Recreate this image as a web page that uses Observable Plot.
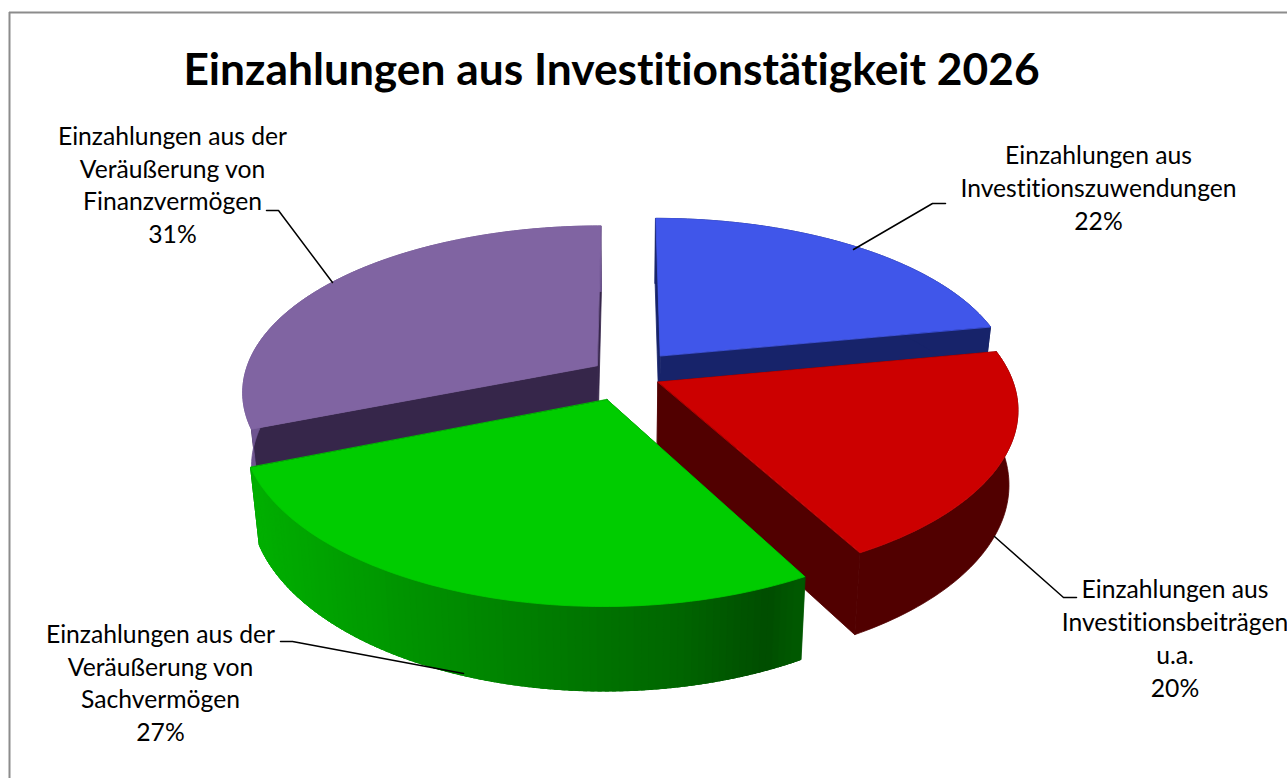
<!DOCTYPE html>
<html lang="de">
<head>
<meta charset="utf-8">
<script src="https://cdn.jsdelivr.net/npm/d3@7"></script>
<script src="https://cdn.jsdelivr.net/npm/@observablehq/plot@0.6"></script>
<style>
html,body{margin:0;padding:0;background:#fff;overflow:hidden}
#chart svg{display:block;font-variant-ligatures:none}
#chart svg text{font-variant-ligatures:none;font-feature-settings:"liga" 0,"clig" 0}
</style>
</head>
<body>
<div id="chart"></div>
<script>
// --- data -----------------------------------------------------------------
const title = "Einzahlungen aus Investitionstätigkeit 2026";
const categories = [
  "Einzahlungen aus\nInvestitionszuwendungen",
  "Einzahlungen aus\nInvestitionsbeiträgen\nu.a.",
  "Einzahlungen aus der\nVeräußerung von\nSachvermögen",
  "Einzahlungen aus der\nVeräußerung von\nFinanzvermögen"
];
const shares = [22, 20, 27, 31];
const explosion = [0.155, 0.10, 0.155, 0.10];
const topColors = ["#4056EA", "#CC0000", "#00CC00", "#8064A2"];
const faceColors = ["#17236A", "#510000", "#004D00", "#36264A"];
const rimColors = ["#17236A", "#510000", null, "#6E5590"];
const labelX = [1098, 1174.5, 160, 172];
const labelY = [186, 636.5, 681, 183];
const leaders = [
  [[945, 203], [932, 203], [853, 249]],
  [[1076, 597], [1063, 597], [994, 536]],
  [[280, 641], [292, 641], [463, 673]],
  [[266, 210], [278, 210], [332, 282]]
];

// --- 3-D pie projection ---------------------------------------------------
const cx = 625.5, cy = 374.5, rx = 352.7, ry = 165, kx = 0.15, ky = 0.16;
const depth = 73, sx = 0.977, sy = 1.05;
const rad = d => d * Math.PI / 180;
function project(X, Z, bottom) {
  const x = rx * X / (1 + kx * Z), y = -ry * Z / (1 + ky * Z);
  return bottom ? [cx + x * sx, cy + depth + y * sy] : [cx + x, cy + y];
}
const greenWall = d3.scaleLinear()
  .domain([258, 400, 550, 680, 770, 805])
  .range(["#00B000", "#009600", "#007C00", "#006600", "#004D00", "#005C00"]);

// --- polygons -------------------------------------------------------------
const polys = [];
let nextId = 0;
const addPoly = (pts, color) => {
  const id = nextId++;
  pts.forEach(p => polys.push({id, px: p[0], py: p[1], color}));
};
const starts = d3.cumsum([0, ...shares]);
const drawOrder = [3, 0, 1, 2];
for (const i of drawOrder) {
  const a0 = starts[i] * 3.6, a1 = starts[i + 1] * 3.6;
  const mid = rad((a0 + a1) / 2);
  const ox = explosion[i] * Math.sin(mid), oz = explosion[i] * Math.cos(mid);
  const rim = (deg, bottom) =>
    project(ox + Math.sin(rad(deg)), oz + Math.cos(rad(deg)), bottom);
  const apex = bottom => project(ox, oz, bottom);
  const arc = (from, to, bottom, step = 1) => {
    const out = d3.range(from, to, step).map(f => rim(f, bottom));
    out.push(rim(to, bottom));
    return out;
  };

  // radial cut faces
  addPoly([apex(false), rim(a0, false), rim(a0, true), apex(true)], faceColors[i]);
  addPoly([apex(false), rim(a1, false), rim(a1, true), apex(true)], faceColors[i]);
  // outer wall: one flat polygon, or overlapping strips for the shaded slice
  if (rimColors[i]) {
    addPoly([...arc(a0, a1, false), ...arc(a0, a1, true).reverse()], rimColors[i]);
  } else {
    for (const f of d3.range(a1 - 1, a0 - 1, -1)) {
      const from = Math.max(f, a0), to = Math.min(f + 2.5, a1);
      const p = [rim(from, false), rim(to, false), rim(to, true), rim(from, true)];
      addPoly(p, d3.color(greenWall((p[2][0] + p[3][0]) / 2)).formatHex());
    }
  }
  // top surface
  addPoly([apex(false), ...arc(a0, a1, false)], topColors[i]);
}

const labels = categories.map((c, i) => ({
  text: `${c}\n${shares[i]}%`, x: labelX[i], y: labelY[i]
}));
const leaderRows = leaders.flatMap((l, id) => l.map(p => ({id, px: p[0], py: p[1]})));

// --- chart ----------------------------------------------------------------
const chart = Plot.plot({
  width: 1287,
  height: 778,
  margin: 0,
  style: {background: "#fff", fontFamily: "Lato, sans-serif"},
  x: {domain: [0, 1287], range: [0, 1287], axis: null},
  y: {domain: [0, 778], range: [0, 778], axis: null},
  color: {type: "identity"},
  marks: [
    Plot.ruleY([12], {stroke: "#8C8C8C", strokeWidth: 2, x1: 9, x2: 1287}),
    Plot.ruleX([9], {stroke: "#8C8C8C", strokeWidth: 2, y1: 12, y2: 778}),
    Plot.line(polys, {
      x: "px", y: "py", z: "id", fill: "color", stroke: "color",
      strokeWidth: 0.8, curve: "linear-closed"
    }),
    Plot.line(leaderRows, {
      x: "px", y: "py", z: "id", stroke: "#000", strokeWidth: 1.5, curve: "linear"
    }),
    Plot.text(labels, {
      x: "x", y: "y", text: "text", fontSize: 24.7, lineHeight: 1.325,
      fill: "#000", textAnchor: "middle", lineAnchor: "middle"
    }),
    Plot.text([title], {
      x: [611], y: [70], text: d => d, fontSize: 44.3, fontWeight: 700,
      fill: "#000", textAnchor: "middle", lineAnchor: "middle"
    })
  ]
});
document.getElementById("chart").appendChild(chart);
</script>
</body>
</html>
